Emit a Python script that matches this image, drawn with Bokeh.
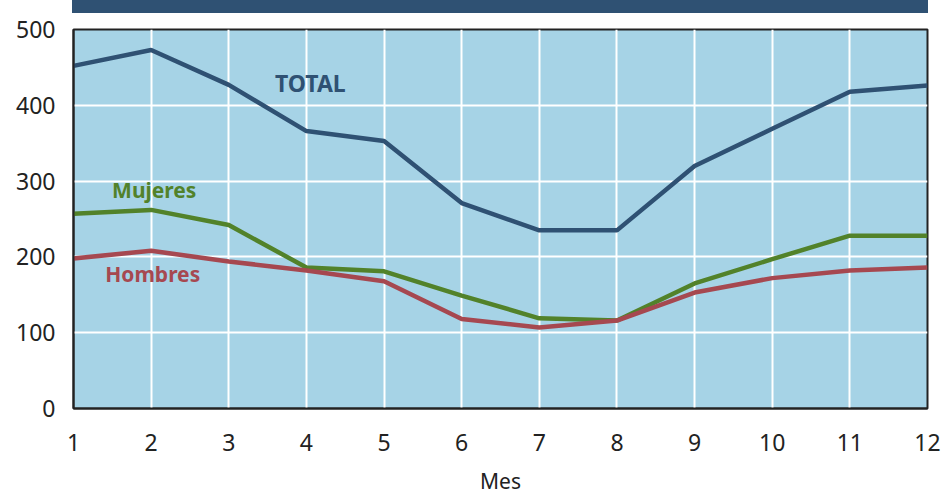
from bokeh.plotting import figure
from bokeh.models import Range1d, FixedTicker, Label, Div
from bokeh.layouts import column
from bokeh.embed import file_html
from bokeh.resources import INLINE

months = [1, 2, 3, 4, 5, 6, 7, 8, 9, 10, 11, 12]
total = [452, 473, 427, 366, 353, 271, 235, 235, 320, 369, 418, 426]
mujeres = [257, 262, 242, 186, 181, 149, 119, 116, 165, 197, 228, 228]
hombres = [198, 208, 194, 182, 168, 118, 107, 116, 153, 172, 182, 186]
y_ticks = [0, 100, 200, 300, 400, 500]

series_names = ["TOTAL", "Mujeres", "Hombres"]
label_pos_x = [4.05, 2.04, 2.02]
label_pos_y = [429, 288, 178]

C_TOTAL = "#2f5173"
C_MUJ = "#52822a"
C_HOM = "#a64850"
FONT = "Noto Sans"

p = figure(width=941, height=484, output_backend="svg", toolbar_location=None,
           x_range=Range1d(1, 12), y_range=Range1d(0, 500),
           min_border_left=73, min_border_right=14, min_border_top=16, min_border_bottom=89,
           margin=0)

p.background_fill_color = "#a6d3e6"
p.border_fill_color = "white"
p.outline_line_color = "#222222"
p.outline_line_width = 2

for g in (p.xgrid, p.ygrid):
    g.grid_line_color = "white"
    g.grid_line_width = 2
p.xgrid.ticker = FixedTicker(ticks=months)
p.ygrid.ticker = FixedTicker(ticks=y_ticks)

for ax in (p.xaxis, p.yaxis):
    ax.axis_line_color = "#222222"
    ax.axis_line_width = 2
    ax.major_tick_line_color = None
    ax.minor_tick_line_color = None
    ax.major_label_text_font = FONT
    ax.major_label_text_font_size = "23px"
    ax.major_label_text_color = "#222222"
p.xaxis.ticker = FixedTicker(ticks=months)
p.yaxis.ticker = FixedTicker(ticks=y_ticks)
p.yaxis.major_label_standoff = 12
p.xaxis.major_label_standoff = 19
p.xaxis.axis_label = "Mes"
p.xaxis.axis_label_text_font = FONT
p.xaxis.axis_label_text_font_style = "normal"
p.xaxis.axis_label_text_font_size = "21px"
p.xaxis.axis_label_text_color = "#222222"
p.xaxis.axis_label_standoff = 13

p.line(months, total, line_color=C_TOTAL, line_width=4.5)
p.line(months, mujeres, line_color=C_MUJ, line_width=4.5)
p.line(months, hombres, line_color=C_HOM, line_width=4.5)

for name, lx, ly, c, fs in zip(series_names, label_pos_x, label_pos_y,
                               [C_TOTAL, C_MUJ, C_HOM], ["23px", "21px", "21px"]):
    p.add_layout(Label(x=lx, y=ly, text=name, text_color=c, text_font=FONT,
                       text_font_style="bold", text_font_size=fs,
                       text_align="center", text_baseline="middle"))

bar = Div(text="", width=856, height=13, margin=(0, 0, 0, 72),
          styles={"background-color": C_TOTAL})

layout = column(bar, p, spacing=0, margin=0)
open("out.html", "w").write(file_html(layout, INLINE))
